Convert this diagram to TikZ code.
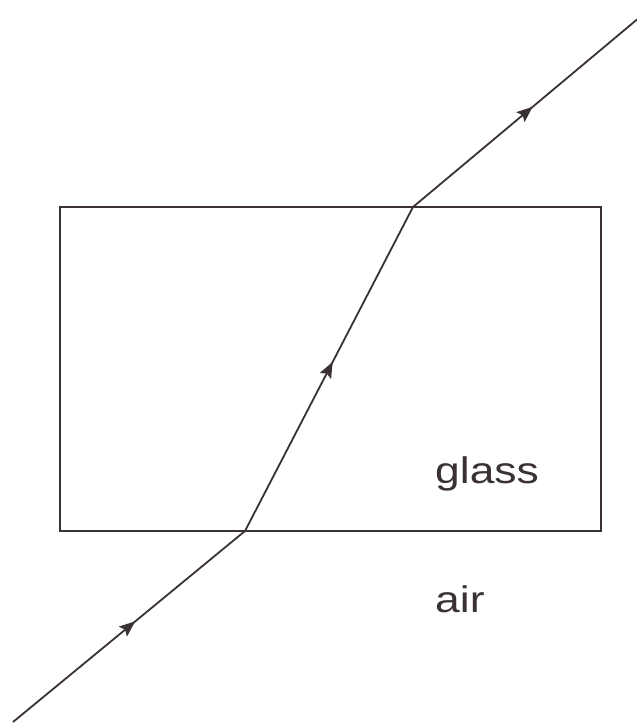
\documentclass[tikz,border=0pt]{standalone}
\usepackage{fontspec}
\setmainfont{Liberation Sans}
\usetikzlibrary{arrows.meta,decorations.markings}
\definecolor{ink}{HTML}{3A3232}
\tikzset{
  raypart/.style={draw=ink, line width=1.8pt, postaction={decorate},
    decoration={markings, mark=at position 0.5 with {\fill[ink] (8pt,0pt) -- (-8pt,6.5pt) -- (-5pt,0pt) -- (-8pt,-6.5pt) -- cycle;}}},
  lbl/.style={anchor=base west, inner sep=0pt, text=ink, font=\fontsize{37}{40}\selectfont, xscale=1.2}
}
\begin{document}
\begin{tikzpicture}[x=1pt,y=-1pt]
\useasboundingbox[fill=white] (0,0) rectangle (637,726);
\node[draw=ink, line width=2pt, minimum width=541pt, minimum height=324pt, inner sep=0pt] (block) at (330.5,369) {};
\coordinate (start) at (13,722);
\coordinate (p) at (245,531);
\coordinate (q) at (413,207);
\coordinate (end) at (640,17);
\draw[raypart] (start) -- (p);
\draw[raypart] (p) -- (q);
\draw[raypart] (q) -- (end);
\node[lbl] (glass) at (435,483) {glass};
\node[lbl] (air) at (435,612) {air};
\end{tikzpicture}
\end{document}
